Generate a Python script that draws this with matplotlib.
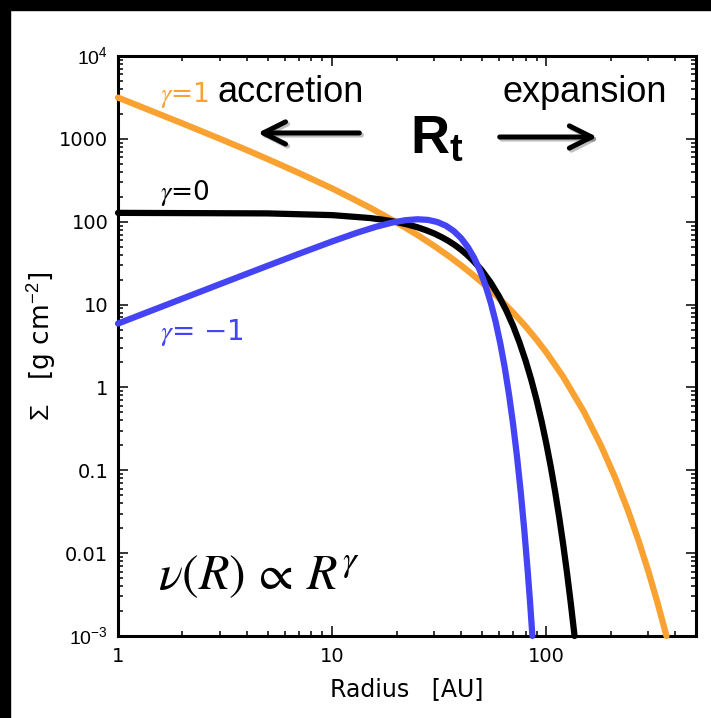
import matplotlib
matplotlib.use('Agg')
from matplotlib import pyplot as plt
from matplotlib.patches import Rectangle
import matplotlib.patheffects as pe

plt.rcParams['font.family'] = ['DejaVu Sans']
plt.rcParams['mathtext.fontset'] = 'custom'
plt.rcParams['mathtext.bf'] = 'Liberation Sans:bold'
plt.rcParams['mathtext.rm'] = 'Liberation Sans'

# surface density profiles, Sigma [g cm^-2] against radius [AU]
r_g1 = [1, 2, 3, 4, 5, 7, 10, 12, 15, 20, 25, 30, 35, 40, 45, 50, 60, 70, 80,
        90, 100, 120, 150, 180, 210, 240, 270, 300, 330, 364]
sig_g1 = [3150, 1536, 999, 731, 570, 387, 252, 199, 148, 98.0, 69.2, 50.9,
          38.5, 29.7, 23.3, 18.5, 12.0, 8.02, 5.46, 3.78, 2.65, 1.34, 0.506,
          0.199, 0.0807, 0.0334, 0.0140, 0.00596, 0.00256, 0.0010]

r_g0 = [1, 5, 10, 15, 17.5, 20, 22.5, 25, 27.5, 30, 32.5, 35, 37.5, 40, 42.5,
        45, 47.5, 50, 55, 60, 65, 70, 75, 80, 85, 90, 95, 100, 105, 110, 115,
        120, 125, 130, 135.5]
sig_g0 = [127.9, 126.0, 120.1, 110.8, 105.2, 99.1, 92.5, 85.8, 78.8, 72.0,
          65.0, 58.4, 52.0, 45.9, 40.2, 34.9, 30.1, 25.8, 18.4, 12.7, 8.5,
          5.53, 3.47, 2.11, 1.245, 0.711, 0.393, 0.210, 0.109, 0.0547, 0.0266,
          0.0125, 0.00572, 0.00253, 0.0010]

r_gm1 = [1, 2, 3, 5, 7, 10, 13, 16, 19, 22, 25, 28, 31, 34, 37, 40, 43, 46,
         49, 52, 55, 58, 61, 64, 67, 70, 73, 76, 79, 82, 84, 86.1]
sig_gm1 = [5.9, 11.8, 17.7, 29.4, 41.0, 57.8, 73.3, 86.8, 97.4, 104.3, 107.0,
           105.2, 99.1, 89.4, 77.0, 63.3, 49.4, 36.7, 25.7, 17.0, 10.6, 6.19,
           3.38, 1.72, 0.814, 0.357, 0.145, 0.0539, 0.0184, 0.00576, 0.00252,
           0.0010]

yticks = [1e4, 1e3, 1e2, 10, 1, 0.1, 0.01, 1e-3]
ylabels = ['$10^{4}$', '1000', '100', '10', '1', '0.1', '0.01', '$10^{-3}$']
xticks = [1, 10, 100]
xlabels = ['1', '10', '100']

orange = '#F9A232'
blue = '#4444F4'

fig = plt.figure(figsize=(7.11, 7.18), dpi=100)
fig.patch.set_facecolor('white')
# dark frame along top and left edge
fig.patches.append(Rectangle((0, 708), 711, 10, transform=None, color='black', zorder=-1))
fig.patches.append(Rectangle((0, 0), 10, 718, transform=None, color='black', zorder=-1))

ax = fig.add_axes([118/711, 1 - 636/718, 578/711, 580/718])
ax.set_xscale('log')
ax.set_yscale('log')
ax.set_xlim(1, 500)
ax.set_ylim(1e-3, 1e4)

for r, s, c in [(r_g1, sig_g1, orange), (r_g0, sig_g0, 'black'), (r_gm1, sig_gm1, blue)]:
    ax.plot(r, s, color=c, lw=4.5, solid_capstyle='round', solid_joinstyle='round',
            clip_on=False, zorder=3)

ax.set_yticks(yticks, ylabels)
ax.set_xticks(xticks, xlabels)
ax.tick_params(which='both', direction='in', top=True, right=True, width=1.1)
ax.tick_params(which='major', length=7.5, labelsize=14, pad=7)
ax.tick_params(which='minor', length=3.8)
ax.tick_params(axis='x', pad=8)
for sp in ax.spines.values():
    sp.set_linewidth(2.2)

ax.set_xlabel('Radius   [AU]', fontsize=17, labelpad=8)
ax.set_ylabel(r'$\Sigma$   [g cm$^{-2}$]', fontsize=19, labelpad=1)

# curve labels
ax.text(1.57, 2785, r'$\gamma$=1', color=orange, fontsize=19, math_fontfamily='stix', va='baseline')
ax.text(1.57, 183, r'$\gamma$=0', color='black', fontsize=19, math_fontfamily='stix', va='baseline')
ax.text(1.57, 3.7, r'$\gamma$= −1', color=blue, fontsize=20, math_fontfamily='stix', va='baseline')

ax.text(2.93, 2785, 'accretion', fontsize=26, family='Liberation Sans', va='baseline')
ax.text(62.7, 2785, 'expansion', fontsize=26, family='Liberation Sans', va='baseline')
ax.text(23.0, 674, r'$\mathbf{R}_\mathbf{t}$', fontsize=39, va='baseline')

shadow = [pe.SimpleLineShadow(offset=(1.5, -1.5), alpha=0.25), pe.Normal()]
ax.annotate('', xy=(4.36, 1178), xytext=(13.8, 1178),
            arrowprops=dict(arrowstyle='->,head_length=0.8,head_width=0.4',
                            lw=3.6, color='black', mutation_scale=20,
                            path_effects=shadow))
ax.annotate('', xy=(178, 1053), xytext=(58.8, 1053),
            arrowprops=dict(arrowstyle='->,head_length=0.8,head_width=0.4',
                            lw=3.6, color='black', mutation_scale=20,
                            path_effects=shadow))

ax.text(1.54, 0.0037, r'$\nu(R)\,\propto\,R^{\gamma}$', fontsize=36,
        math_fontfamily='stix', va='baseline')

fig.savefig('out.png', dpi=100, facecolor='white')
